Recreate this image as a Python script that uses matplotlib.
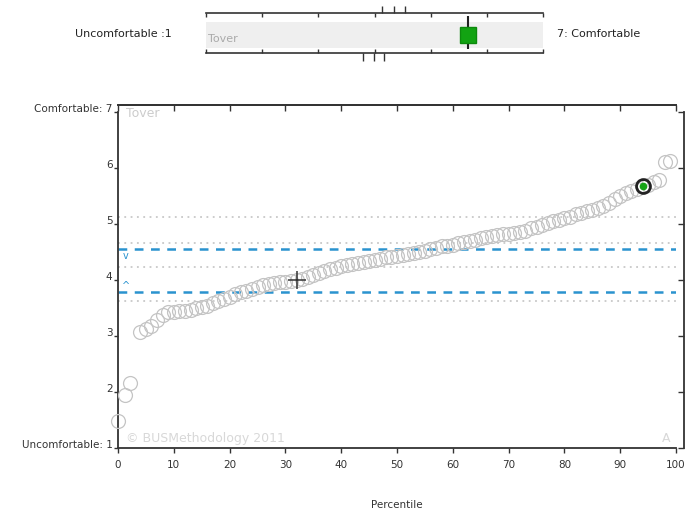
import numpy as np
import matplotlib
matplotlib.use("Agg")
import matplotlib.pyplot as plt

plt.rcParams['font.family'] = ['DejaVu Sans']

# ==========================================
# DATA
# ==========================================
percentile = [0, 1.3, 2.2,
              4, 5, 6, 7, 8, 9, 10, 11, 12, 13, 14, 15, 16, 17, 18, 19,
              20, 21, 22, 23, 24, 25, 26, 27, 28, 29, 30, 31, 32, 33, 34,
              35, 36, 37, 38, 39, 40, 41, 42, 43, 44, 45, 46, 47, 48, 49,
              50, 51, 52, 53, 54, 55, 56, 57, 58, 59, 60, 61, 62, 63, 64,
              65, 66, 67, 68, 69, 70, 71, 72, 73, 74, 75, 76, 77, 78, 79,
              80, 81, 82, 83, 84, 85, 86, 87, 88, 89, 90, 91, 92, 93, 95,
              96, 97, 98, 99]
score = [1.48, 1.94, 2.16,
         3.07, 3.12, 3.18, 3.28, 3.38, 3.42, 3.43, 3.44, 3.45, 3.47, 3.49, 3.51, 3.54, 3.58, 3.62, 3.66,
         3.70, 3.74, 3.78, 3.80, 3.83, 3.87, 3.90, 3.93, 3.95, 3.96, 3.97, 3.98, 4.00, 4.02, 4.06,
         4.09, 4.12, 4.16, 4.20, 4.22, 4.24, 4.26, 4.28, 4.30, 4.32, 4.34, 4.36, 4.38, 4.40, 4.41,
         4.42, 4.44, 4.46, 4.48, 4.50, 4.52, 4.55, 4.57, 4.60, 4.61, 4.63, 4.66, 4.68, 4.70, 4.72,
         4.74, 4.76, 4.78, 4.80, 4.82, 4.82, 4.84, 4.86, 4.88, 4.92, 4.95, 4.98, 5.02, 5.05, 5.07,
         5.10, 5.13, 5.17, 5.20, 5.22, 5.25, 5.28, 5.32, 5.38, 5.45, 5.50, 5.55, 5.58, 5.62, 5.70,
         5.75, 5.78, 6.10, 6.12]

# highlighted product (Tover) and dataset reference point
tover_pct, tover_score = 94, 5.67
cross_pct, cross_score = 32, 3.99

dotted_levels = [3.62, 4.23, 4.66, 5.12]
dashed_levels = [3.79, 4.55]

# marks on the small summary bar
top_marks = [4.13, 4.35, 4.55]
bottom_marks = [3.80, 3.99, 4.17]

ytick_vals = [1, 2, 3, 4, 5, 6, 7]
ytick_labels = ['Uncomfortable: 1', '2', '3', '4', '5', '6', 'Comfortable: 7']
xtick_vals = [0, 10, 20, 30, 40, 50, 60, 70, 80, 90, 100]

W, H = 693, 514
fig = plt.figure(figsize=(W / 100, H / 100), dpi=100)

def rect(x0, y0, x1, y1):
    # pixel box (top-left origin) -> figure fraction
    return [x0 / W, 1 - y1 / H, (x1 - x0) / W, (y1 - y0) / H]

# ==========================================
# SUMMARY BAR (top)
# ==========================================
bx = fig.add_axes(rect(206, 13, 543, 53))
bx.set_xlim(1, 7)
bx.set_ylim(0, 1)
bx.axhspan(0.12, 0.78, color='#efefef', lw=0)
for s in ['left', 'right']:
    bx.spines[s].set_visible(False)
for s in ['top', 'bottom']:
    bx.spines[s].set_color('#333333')
    bx.spines[s].set_linewidth(1.2)
bx.set_xticks(ytick_vals)
bx.tick_params(axis='x', which='both', direction='in', top=True, bottom=True,
               length=3, width=1, color='#333333', labelbottom=False)
bx.set_yticks([])
bx.vlines(top_marks, 1.0, 1.17, transform=bx.get_xaxis_transform(),
          color='#333333', lw=1, clip_on=False)
bx.vlines(bottom_marks, -0.2, 0.0, transform=bx.get_xaxis_transform(),
          color='#333333', lw=1, clip_on=False)
bx.vlines([tover_score], 0.1, 0.92, color='#222222', lw=1.5, zorder=3)
bx.plot([tover_score], [0.45], marker='s', ms=11, color='#12a312',
        mec='#0d8a0d', zorder=4)
bx.text(1.04, 0.36, 'Tover', color='#aaaaaa', fontsize=8, va='center')
fig.text(172 / W, 1 - 34 / H, 'Uncomfortable :1', ha='right', va='center',
         fontsize=8, color='#222222')
fig.text(557 / W, 1 - 34 / H, '7: Comfortable', ha='left', va='center',
         fontsize=8, color='#222222')

# ==========================================
# MAIN CHART
# ==========================================
ax = fig.add_axes(rect(118, 105, 676, 448))
ax.set_xlim(0, 100)
ax.set_ylim(1, 7.12)

for lv in dotted_levels:
    ax.axhline(lv, color='#c8c8c8', lw=1.3, ls=(0, (1, 2.5)), zorder=1)
for lv in dashed_levels:
    ax.axhline(lv, color='#2a93cf', lw=1.8, ls=(0, (3.5, 3)), zorder=2)
ax.text(0.8, dashed_levels[1] - 0.03, 'v', color='#2a93cf', fontsize=7,
        ha='left', va='top')
ax.text(0.8, dashed_levels[0] + 0.01, '^', color='#2a93cf', fontsize=7,
        ha='left', va='bottom')

ax.plot(percentile, score, 'o', ms=10, mfc='none', mec='#c4c4c4', mew=0.9,
        zorder=3, clip_on=False)
ax.plot([tover_pct], [tover_score], 'o', ms=10, mfc='none', mec='#222222',
        mew=2, zorder=5)
ax.plot([tover_pct], [tover_score], 'o', ms=4.5, color='#16a316', zorder=6)
ax.plot([cross_pct], [cross_score], '+', ms=13, color='#333333', mew=1.1,
        zorder=6)

ax.text(1.5, 7.08, 'Tover', color='#cccccc', fontsize=9, va='top')
ax.text(1.5, 1.05, '\u00a9 BUSMethodology 2011', color='#d8d8d8', fontsize=9,
        va='bottom')
ax.text(99, 1.05, 'A', color='#d8d8d8', fontsize=9, ha='right', va='bottom')

# spines: bottom/left carry labels, top ticks point down, right axis floats
for s in ['left', 'bottom', 'top']:
    ax.spines[s].set_color('#333333')
    ax.spines[s].set_linewidth(1.3)
ax.spines['right'].set_visible(False)
ax.spines['left'].set_bounds(1, 7)

ax.set_xticks(xtick_vals)
ax.set_xticklabels([str(v) for v in xtick_vals], fontsize=7.5, color='#333333')
ax.tick_params(axis='x', top=False, bottom=True, length=3.5, width=1,
               color='#333333', direction='out', pad=5)
ax.set_yticks(ytick_vals)
ax.set_yticklabels(ytick_labels, fontsize=7.5, color='#333333', va='baseline')
ax.tick_params(axis='y', left=True, right=False, length=3, width=1,
               color='#333333', direction='out', pad=1)
ax.set_xlabel('Percentile', fontsize=7.5, color='#333333', labelpad=22)

top = ax.secondary_xaxis('top')
top.set_xticks(xtick_vals)
top.tick_params(direction='in', length=4, width=1, color='#333333',
                labeltop=False)
top.spines['top'].set_color('#333333')
top.spines['top'].set_linewidth(1.3)

right = ax.secondary_yaxis(1 + 8 / 558)
right.set_yticks(ytick_vals)
right.tick_params(direction='in', length=4, width=1, color='#333333',
                  labelright=False)
right.spines['right'].set_color('#333333')
right.spines['right'].set_linewidth(1.3)
right.spines['right'].set_bounds(1, 7)

fig.savefig('out.png', dpi=100)
